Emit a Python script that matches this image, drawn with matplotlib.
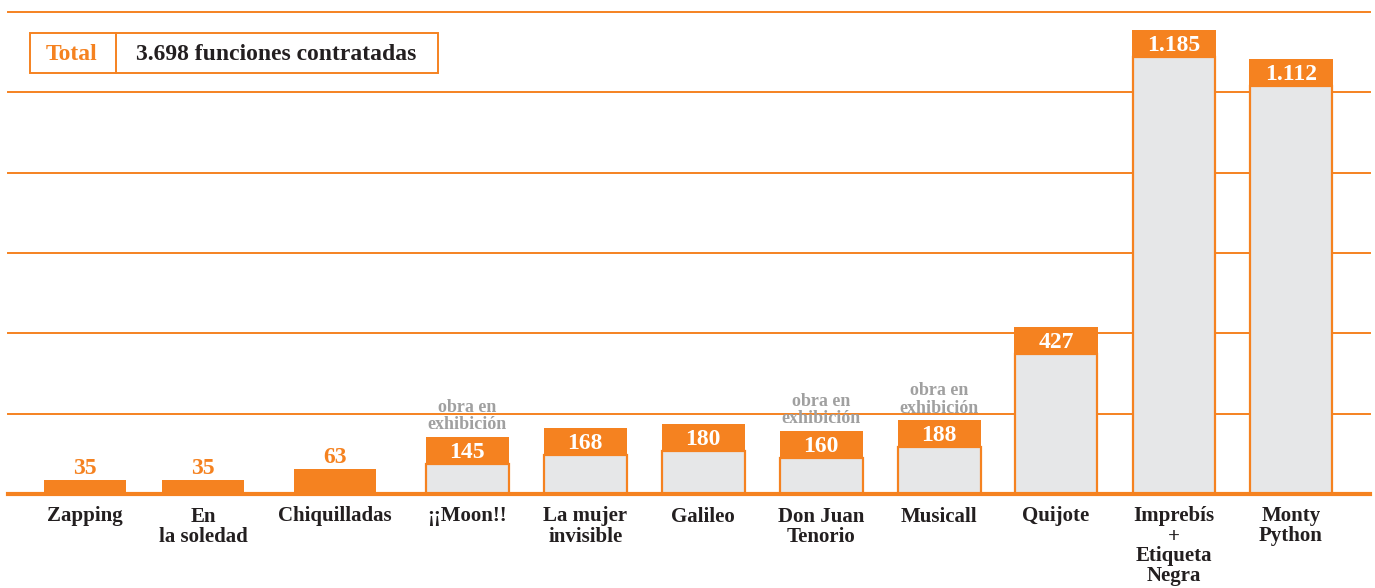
import numpy as np
import matplotlib
matplotlib.use('Agg')
import matplotlib.pyplot as plt
from matplotlib.patches import Rectangle
from matplotlib.lines import Line2D

# datos
obras = ['Zapping', 'En\nla soledad', 'Chiquilladas', '¡¡Moon!!', 'La mujer\ninvisible',
         'Galileo', 'Don Juan\nTenorio', 'Musicall', 'Quijote', 'Imprebís\n+\nEtiqueta\nNegra',
         'Monty\nPython']
funciones = [35, 35, 63, 145, 168, 180, 160, 188, 427, 1185, 1112]
etiquetas = ['35', '35', '63', '145', '168', '180', '160', '188', '427', '1.185', '1.112']
en_exhibicion = [False, False, False, True, False, False, True, True, False, False, False]
total_txt = '3.698 funciones contratadas'

naranja = '#F58220'
gris = '#E6E7E8'
texto = '#231F20'
gris_txt = '#A0A0A0'

plt.rcParams['font.family'] = ['Liberation Serif', 'DejaVu Serif']
plt.rcParams['font.weight'] = 'bold'

fig = plt.figure(figsize=(13.75, 5.88), dpi=100)
ax = fig.add_axes([8/1375, 94/588, 1362/1375, 482/588])

ymax = 1232
# posiciones: hueco algo mayor entre los primeros grupos
extra = np.array([0, 0, 0.12, 0.24, 0.24, 0.24, 0.24, 0.24, 0.23, 0.23, 0.22])
x = np.arange(len(obras)) + extra
ancho = 0.70
cap = 69

for k in range(1, 7):
    ax.axhline(ymax * k / 6, color=naranja, lw=1.4, zorder=0, clip_on=False)

for i in range(len(obras)):
    v = funciones[i]
    if v < 100:
        ax.bar(x[i], v, width=ancho, color=naranja, lw=0, zorder=2)
        ax.text(x[i], v + 4, etiquetas[i], ha='center', va='bottom', color=naranja,
                fontsize=17, fontweight='bold')
    else:
        ax.bar(x[i], v - cap, width=ancho, color=gris, edgecolor=naranja, lw=1.6, zorder=2)
        ax.bar(x[i], cap, bottom=v - cap, width=ancho + 0.008, color=naranja, lw=0, zorder=3)
        ax.text(x[i], v - cap / 2 - 5, etiquetas[i], ha='center', va='center', color='white',
                fontsize=17, fontweight='bold', zorder=4)
    if en_exhibicion[i]:
        ax.text(x[i], v + 10, 'obra en\nexhibición', ha='center', va='bottom', color=gris_txt,
                fontsize=13, fontweight='bold', linespacing=1.05)

ax.axhline(0, color=naranja, lw=3, zorder=5, clip_on=False)

ax.set_xlim(-0.6525, 10.89)
ax.set_ylim(0, ymax)
ax.set_xticks(x)
ax.set_xticklabels(obras, fontsize=15, fontweight='bold', color=texto, linespacing=1.0)
ax.tick_params(axis='x', length=0, pad=9)
ax.set_yticks([])
for s in ax.spines.values():
    s.set_visible(False)

# recuadro del total
fig.add_artist(Rectangle((30/1375, (588-73)/588), 408/1375, 40/588, transform=fig.transFigure,
                         fill=False, edgecolor=naranja, lw=1.4))
fig.add_artist(Line2D([116/1375, 116/1375], [(588-73)/588, (588-33)/588],
                      transform=fig.transFigure, color=naranja, lw=1.4))
fig.text(72/1375, (588-55)/588, 'Total', ha='center', va='center', color=naranja,
         fontsize=17, fontweight='bold')
fig.text(276/1375, (588-55)/588, total_txt, ha='center', va='center', color=texto,
         fontsize=17, fontweight='bold')

fig.savefig('out.png', dpi=100)
